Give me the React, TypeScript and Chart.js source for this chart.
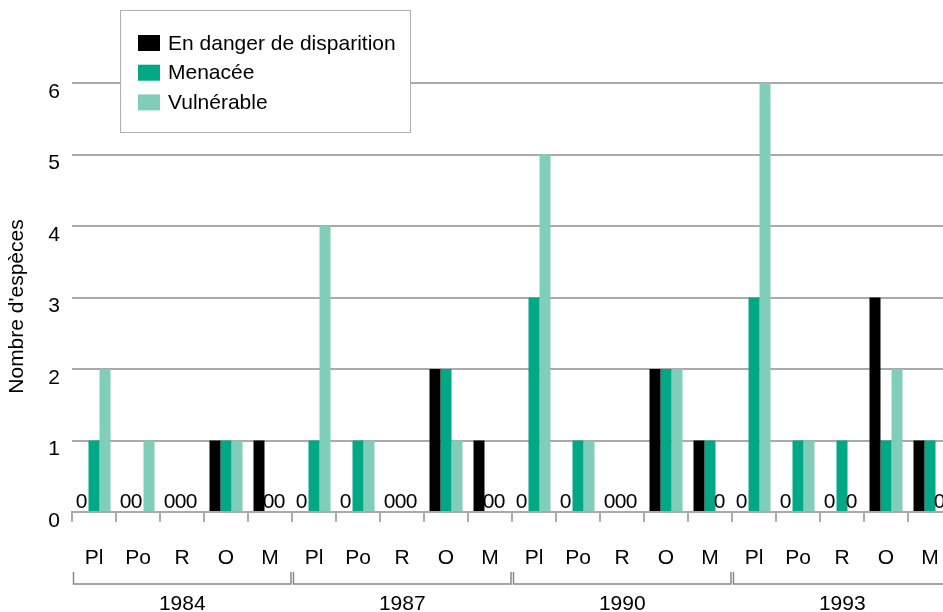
import React, { useEffect, useRef } from "react";
import { Chart, registerables } from "chart.js";

Chart.register(...registerables);

const groups = ["Pl", "Po", "R", "O", "M"];
const years = ["1984", "1987", "1990", "1993"];
const categories = years.flatMap(() => groups);

const seriesNames = ["En danger de disparition", "Menacée", "Vulnérable"];
const seriesColors = ["#000000", "#00a886", "#80cdb9"];

// values per category, in order: 1984 Pl..M, 1987 Pl..M, 1990 Pl..M, 1993 Pl..M
const enDanger = [0, 0, 0, 1, 1, 0, 0, 0, 2, 1, 0, 0, 0, 2, 1, 0, 0, 0, 3, 1];
const menacee = [1, 0, 0, 1, 0, 1, 1, 0, 2, 0, 3, 1, 0, 2, 1, 3, 1, 1, 1, 1];
const vulnerable = [2, 1, 0, 1, 0, 4, 1, 0, 1, 0, 5, 1, 0, 2, 0, 6, 1, 0, 2, 0];

const yTicks = [0, 1, 2, 3, 4, 5, 6];
const yTitle = "Nombre d'espèces";

const FONT = "'Liberation Sans', Arial, Helvetica, sans-serif";

export default function App() {
  const ref = useRef<HTMLCanvasElement | null>(null);

  useEffect(() => {
    const canvas = ref.current;
    if (!canvas) return;

    const extras = {
      id: "extras",
      afterDatasetsDraw(chart: any) {
        const ctx = chart.ctx;
        const area = chart.chartArea;
        ctx.save();
        ctx.fillStyle = "#000";
        ctx.font = `21px ${FONT}`;
        ctx.textAlign = "center";
        ctx.textBaseline = "alphabetic";
        chart.data.datasets.forEach((ds: any, i: number) => {
          const meta = chart.getDatasetMeta(i);
          meta.data.forEach((el: any, j: number) => {
            if (ds.data[j] === 0) {
              ctx.fillText("0", el.x - 1.5, area.bottom - 4);
            }
          });
        });
        ctx.restore();
      },
      afterDraw(chart: any) {
        const ctx = chart.ctx;
        const xs = chart.scales.x;
        const area = chart.chartArea;
        const half = (xs.getPixelForValue(1) - xs.getPixelForValue(0)) / 2;
        ctx.save();
        // year brackets
        ctx.strokeStyle = "#888";
        ctx.lineWidth = 1.5;
        years.forEach((yr, g) => {
          const x0 = xs.getPixelForValue(g * groups.length) - half + 1.5;
          const x1 = xs.getPixelForValue(g * groups.length + groups.length - 1) + half - 1;
          ctx.beginPath();
          ctx.moveTo(x0, 572);
          ctx.lineTo(x0, 584);
          ctx.lineTo(x1, 584);
          ctx.lineTo(x1, 572);
          ctx.stroke();
          ctx.fillStyle = "#000";
          ctx.font = `21px ${FONT}`;
          ctx.textAlign = "center";
          ctx.textBaseline = "alphabetic";
          ctx.fillText(yr, (x0 + x1) / 2, 610);
        });
        // y title
        ctx.save();
        ctx.translate(17.5, (area.top + area.bottom) / 2 + 9);
        ctx.rotate(-Math.PI / 2);
        ctx.textAlign = "center";
        ctx.textBaseline = "middle";
        ctx.fillStyle = "#000";
        ctx.font = `21px ${FONT}`;
        ctx.fillText(yTitle, 0, 0);
        ctx.restore();
        // legend
        const bx = 120.5, by = 10.5, bw = 290, bh = 122;
        ctx.fillStyle = "#fff";
        ctx.fillRect(bx, by, bw, bh);
        ctx.strokeStyle = "#b0b0b0";
        ctx.lineWidth = 1;
        ctx.strokeRect(bx, by, bw, bh);
        ctx.font = `21px ${FONT}`;
        ctx.textAlign = "left";
        ctx.textBaseline = "middle";
        chart.data.datasets.forEach((ds: any, i: number) => {
          const cy = 43 + i * 29.7;
          ctx.fillStyle = ds.backgroundColor;
          ctx.fillRect(138, cy - 8, 22, 16);
          ctx.fillStyle = "#000";
          ctx.fillText(ds.label, 168, cy + 1);
        });
        ctx.restore();
      },
    };

    const chart = new Chart(canvas, {
      type: "bar",
      data: {
        labels: categories,
        datasets: [enDanger, menacee, vulnerable].map((d, i) => ({
          label: seriesNames[i],
          data: d,
          backgroundColor: seriesColors[i],
          borderWidth: 0,
          categoryPercentage: 0.75,
          barPercentage: 1.0,
        })),
      },
      options: {
        responsive: false,
        animation: false,
        devicePixelRatio: 1,
        layout: { padding: { top: 83, left: 0, right: 8, bottom: 0 } },
        plugins: {
          legend: { display: false },
          tooltip: { enabled: false },
        },
        scales: {
          x: {
            grid: {
              display: true,
              drawOnChartArea: false,
              drawTicks: true,
              tickLength: 10,
              color: "#aaaaaa",
              lineWidth: 2,
              offset: true,
            },
            border: { display: true, color: "#aaaaaa", width: 2 },
            ticks: {
              autoSkip: false,
              maxRotation: 0,
              padding: 24,
              color: "#000",
              font: { family: FONT, size: 21 },
            },
            afterFit(scale: any) {
              scale.height = 100;
              scale.paddingLeft = 0;
              scale.paddingRight = 0;
            },
          },
          y: {
            min: 0,
            max: 6,
            afterBuildTicks(scale: any) {
              scale.ticks = yTicks.map((v) => ({ value: v }));
            },
            grid: { color: "#aaaaaa", lineWidth: 2, drawTicks: false },
            border: { display: false },
            ticks: {
              padding: 12,
              labelOffset: 9,
              color: "#000",
              font: { family: FONT, size: 21 },
            },
            afterFit(scale: any) {
              scale.width = 72;
              scale.paddingTop = 0;
              scale.paddingBottom = 0;
            },
          },
        },
      },
      plugins: [extras],
    } as any);

    return () => chart.destroy();
  }, []);

  return (
    <div
      style={{
        position: "fixed",
        left: 0,
        top: 0,
        width: 943,
        height: 612,
        overflow: "hidden",
        background: "#fff",
      }}
    >
      <canvas ref={ref} width={960} height={612} style={{ width: 960, height: 612, display: "block" }} />
    </div>
  );
}
